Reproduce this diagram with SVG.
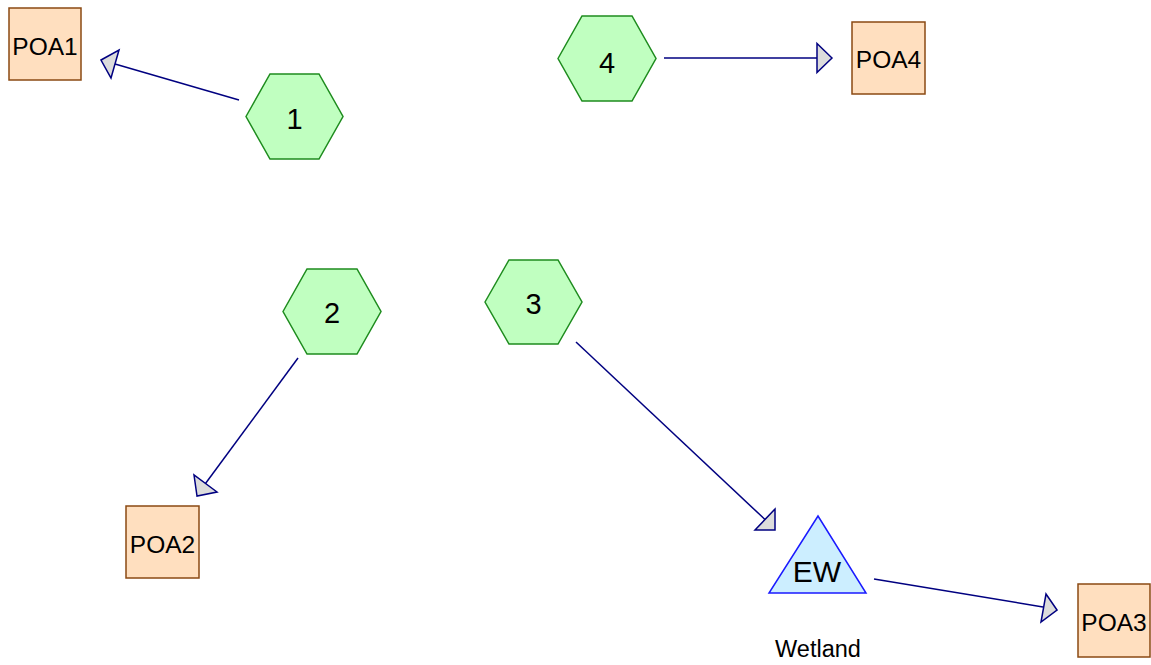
<svg xmlns="http://www.w3.org/2000/svg" width="1151" height="665" viewBox="0 0 1151 665">
<style>
.hex{fill:#c0ffc0;stroke:#1e8c1e;stroke-width:1.5}
.box{fill:#ffdfbf;stroke:#8b4a13;stroke-width:1.5}
.tri{fill:#cceeff;stroke:#1a1aff;stroke-width:1.5}
.lbl{font-family:"Liberation Sans",Arial,sans-serif;fill:#000;text-anchor:middle}
.edge{stroke:#000080;stroke-width:1.5;fill:none}
.head{fill:#dcdcdc;stroke:#000080;stroke-width:1.5;stroke-linejoin:miter}
</style>
<rect width="1151" height="665" fill="#fff"/>
<g id="connectors">
<line class="edge" x1="239" y1="100" x2="115" y2="64"/>
<polygon class="head" points="101,60 119,50 111,78"/>
<line class="edge" x1="664" y1="58" x2="817" y2="58"/>
<polygon class="head" points="832,58 817,43.5 817,72.5"/>
<line class="edge" x1="298" y1="358" x2="205.5" y2="483.5"/>
<polygon class="head" points="197,496 194,475 217,492"/>
<line class="edge" x1="576" y1="342" x2="765" y2="519.5"/>
<polygon class="head" points="775,530 755,530 775,509"/>
<line class="edge" x1="874" y1="579" x2="1043" y2="607"/>
<polygon class="head" points="1057,610 1046,594 1041,622"/>
</g>
<g id="node-1">
<polygon class="hex" points="246,116.5 270,74 319,74 343,116.5 319,159 270,159"/>
<text class="lbl" x="294.5" y="128.5" font-size="29">1</text>
</g>
<g id="node-4">
<polygon class="hex" points="558,58.5 582,16 632,16 656,58.5 632,101 582,101"/>
<text class="lbl" x="607" y="72.5" font-size="29">4</text>
</g>
<g id="node-2">
<polygon class="hex" points="283,311.5 307,269 357,269 381,311.5 357,354 307,354"/>
<text class="lbl" x="332" y="322.5" font-size="29">2</text>
</g>
<g id="node-3">
<polygon class="hex" points="485,302 509,260 558,260 582,302 558,344 509,344"/>
<text class="lbl" x="533.5" y="313.5" font-size="29">3</text>
</g>
<g id="node-POA1">
<rect class="box" x="9" y="8" width="72" height="72"/>
<text class="lbl" x="45" y="55" font-size="24.5">POA1</text>
</g>
<g id="node-POA4">
<rect class="box" x="852" y="22" width="73" height="72"/>
<text class="lbl" x="888.5" y="67.5" font-size="24.5">POA4</text>
</g>
<g id="node-POA2">
<rect class="box" x="126" y="506" width="73" height="72"/>
<text class="lbl" x="162.5" y="552.5" font-size="24.5">POA2</text>
</g>
<g id="node-POA3">
<rect class="box" x="1078" y="584" width="72" height="73"/>
<text class="lbl" x="1114" y="630.5" font-size="24.5">POA3</text>
</g>
<g id="node-EW">
<polygon class="tri" points="818,516 769,593 866,593"/>
<text class="lbl" x="817" y="582" font-size="30">EW</text>
<text class="lbl" x="818" y="657" font-size="23.5">Wetland</text>
</g>
</svg>
